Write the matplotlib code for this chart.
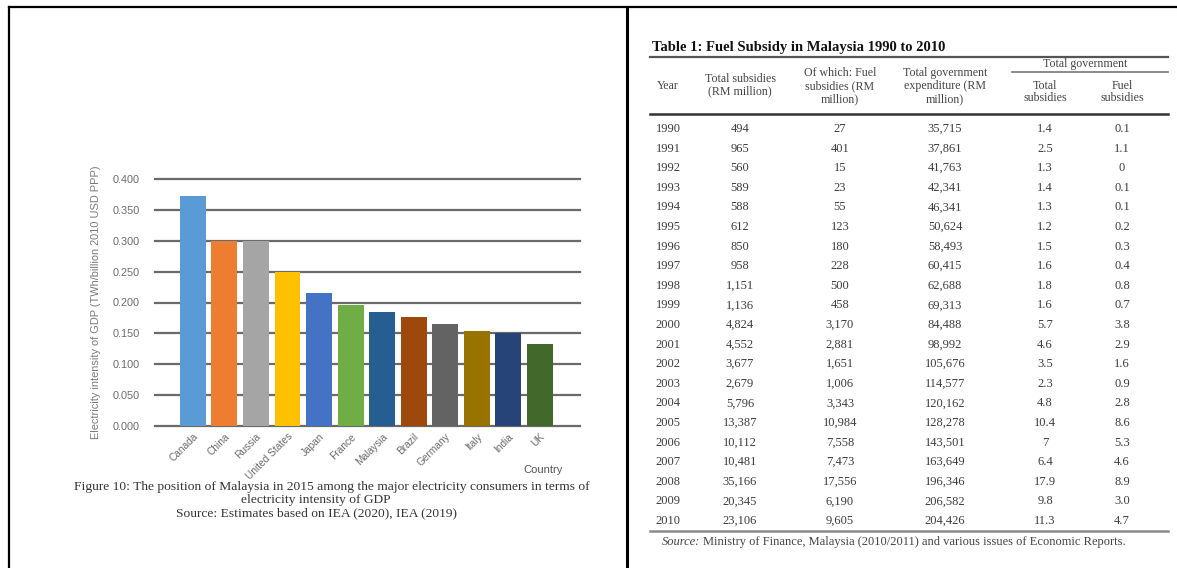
import matplotlib
matplotlib.use("Agg")
import matplotlib.pyplot as plt
from matplotlib.lines import Line2D

W, H = 1177, 568

# Figure 10 data
countries = ["Canada", "China", "Russia", "United States", "Japan", "France",
             "Malaysia", "Brazil", "Germany", "Italy", "India", "UK"]
intensity = [0.372, 0.300, 0.300, 0.250, 0.216, 0.196,
             0.185, 0.177, 0.165, 0.154, 0.151, 0.132]
bar_colors = ["#5B9BD5", "#ED7D31", "#A5A5A5", "#FFC000", "#4472C4", "#70AD47",
              "#255E91", "#9E480E", "#636363", "#997300", "#264478", "#43682B"]
y_ticks = [0.0, 0.05, 0.10, 0.15, 0.20, 0.25, 0.30, 0.35, 0.40]

# Table 1 data
years = ["1990", "1991", "1992", "1993", "1994", "1995", "1996", "1997", "1998",
         "1999", "2000", "2001", "2002", "2003", "2004", "2005", "2006", "2007",
         "2008", "2009", "2010"]
total_subsidies = ["494", "965", "560", "589", "588", "612", "850", "958", "1,151",
                   "1,136", "4,824", "4,552", "3,677", "2,679", "5,796", "13,387",
                   "10,112", "10,481", "35,166", "20,345", "23,106"]
fuel_subsidies = ["27", "401", "15", "23", "55", "123", "180", "228", "500", "458",
                  "3,170", "2,881", "1,651", "1,006", "3,343", "10,984", "7,558",
                  "7,473", "17,556", "6,190", "9,605"]
gov_expenditure = ["35,715", "37,861", "41,763", "42,341", "46,341", "50,624",
                   "58,493", "60,415", "62,688", "69,313", "84,488", "98,992",
                   "105,676", "114,577", "120,162", "128,278", "143,501", "163,649",
                   "196,346", "206,582", "204,426"]
pct_total = ["1.4", "2.5", "1.3", "1.4", "1.3", "1.2", "1.5", "1.6", "1.8", "1.6",
             "5.7", "4.6", "3.5", "2.3", "4.8", "10.4", "7", "6.4", "17.9", "9.8", "11.3"]
pct_fuel = ["0.1", "1.1", "0", "0.1", "0.1", "0.2", "0.3", "0.4", "0.8", "0.7",
            "3.8", "2.9", "1.6", "0.9", "2.8", "8.6", "5.3", "4.6", "8.9", "3.0", "4.7"]


def fx(x):
    return x / W


def fy(y):
    return 1 - y / H


def hline(fig, x0, x1, y, color="black", lw=1.0):
    fig.add_artist(Line2D([fx(x0), fx(x1)], [fy(y), fy(y)], color=color, lw=lw,
                          transform=fig.transFigure))


def vline(fig, x, y0, y1, color="black", lw=1.0):
    fig.add_artist(Line2D([fx(x), fx(x)], [fy(y0), fy(y1)], color=color, lw=lw,
                          transform=fig.transFigure))


def txt(fig, x, y, s, **kw):
    return fig.text(fx(x), fy(y), s, transform=fig.transFigure, **kw)


fig = plt.figure(figsize=(W / 100, H / 100), dpi=100)
fig.patch.set_facecolor("white")

# frame around the two panels
hline(fig, 9, W, 7, lw=1.6)
vline(fig, 9, 7, H, lw=1.6)
vline(fig, 627, 7, H, lw=2.2)

# ---- left panel: bar chart ----
ax = fig.add_axes([fx(155), fy(426), fx(580) - fx(155), fy(179) - fy(426)])
x = range(len(countries))
ax.bar(x, intensity, width=0.82, color=bar_colors, zorder=2)
ax.set_xlim(-1.2, 12.27)
ax.set_ylim(0, 0.4)
for v in y_ticks:
    ax.axhline(v, color="#6a6a6a", lw=1.6, zorder=0, clip_on=False)
ax.set_yticks(y_ticks)
ax.set_yticklabels([f"{v:.3f}" for v in y_ticks], color="#6b6b6b",
                   fontsize=7.8, family="Liberation Sans")
ax.set_xticks(list(x))
ax.set_xticklabels(countries, rotation=45, ha="right", va="top",
                   rotation_mode="anchor", color="#6b6b6b", fontsize=7.3,
                   family="Liberation Sans")
ax.tick_params(axis="both", length=0)
ax.tick_params(axis="y", pad=11)
ax.tick_params(axis="x", pad=4)
for s in ax.spines.values():
    s.set_visible(False)
ax.set_ylabel("Electricity intensity of GDP (TWh/billion 2010 USD PPP)",
              color="#7a7a7a", fontsize=7.9, family="Liberation Sans", labelpad=8)

txt(fig, 543, 470, "Country", ha="center", va="center", color="#555555",
    fontsize=8, family="Liberation Sans")

cap_kw = dict(ha="center", va="baseline", color="#333333", fontsize=9.7,
              family="Liberation Serif")
txt(fig, 332, 490, "Figure 10: The position of Malaysia in 2015 among the major "
    "electricity consumers in terms of", **cap_kw)
txt(fig, 316, 503, "electricity intensity of GDP", **cap_kw)
txt(fig, 316, 516, "Source: Estimates based on IEA (2020), IEA (2019)", **cap_kw)

# ---- right panel: table ----
tl, tr = 650, 1168
txt(fig, 652, 48, "Table 1: Fuel Subsidy in Malaysia 1990 to 2010", ha="left",
    va="center", fontsize=10.5, fontweight="bold", family="Liberation Serif",
    color="#111111")
hline(fig, tl, tr, 57, color="#555555", lw=1.6)

col_x = [668, 740, 840, 945, 1045, 1122]
head_kw = dict(ha="center", va="center", fontsize=8.6, family="Liberation Serif",
               color="#444444", linespacing=1.1)
txt(fig, col_x[0], 86, "Year", **head_kw)
txt(fig, col_x[1], 85, "Total subsidies\n(RM million)", **head_kw)
txt(fig, col_x[2], 86, "Of which: Fuel\nsubsidies (RM\nmillion)", **head_kw)
txt(fig, col_x[3], 86, "Total government\nexpenditure (RM\nmillion)", **head_kw)
txt(fig, 1085, 64, "Total government", **head_kw)
hline(fig, 1012, tr, 72, color="#777777", lw=1.2)
txt(fig, col_x[4], 92, "Total\nsubsidies", **head_kw)
txt(fig, col_x[5], 92, "Fuel\nsubsidies", **head_kw)
hline(fig, tl, tr, 114, color="#333333", lw=1.8)

columns = [years, total_subsidies, fuel_subsidies, gov_expenditure, pct_total, pct_fuel]
row0, step = 128, 19.6
body_kw = dict(ha="center", va="baseline", fontsize=9.0, family="Liberation Serif",
               color="#3c3c3c")
for i in range(len(years)):
    yy = row0 + i * step + 4
    for cx, col in zip(col_x, columns):
        txt(fig, cx, yy, col[i], **body_kw)

hline(fig, tl, tr, 531, color="#8a8a8a", lw=1.8)

src_kw = dict(va="baseline", fontsize=9.0, family="Liberation Serif", color="#444444")
t1 = txt(fig, 662, 545, "Source:", ha="left", style="italic", **src_kw)
fig.canvas.draw()
bb = t1.get_window_extent(renderer=fig.canvas.get_renderer())
txt(fig, bb.x1 + 3, 545, "Ministry of Finance, Malaysia (2010/2011) and various "
    "issues of Economic Reports.", ha="left", **src_kw)

fig.savefig("out.png", dpi=100, facecolor="white")
